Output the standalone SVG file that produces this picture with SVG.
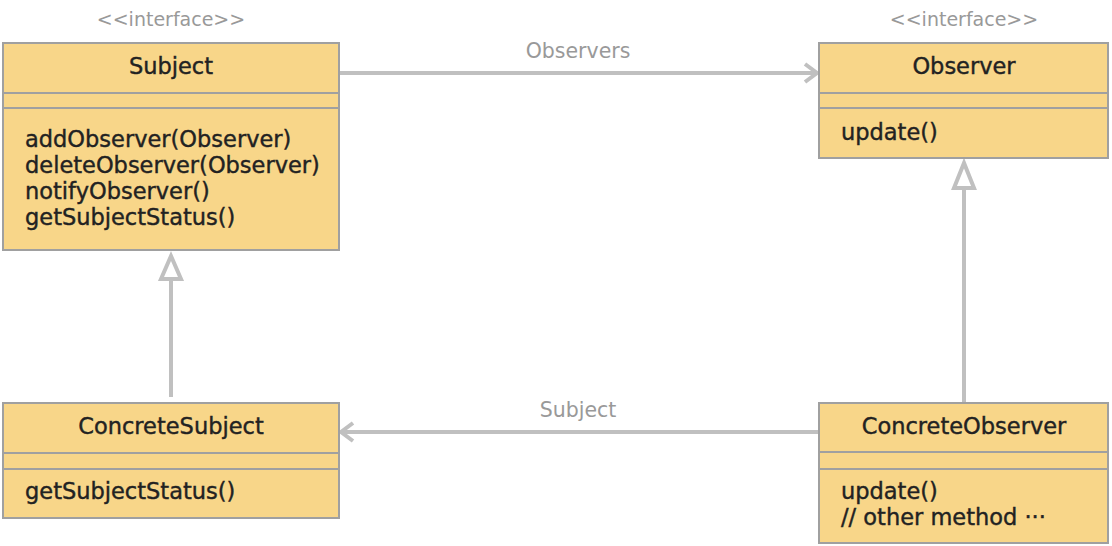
<svg xmlns="http://www.w3.org/2000/svg" width="1112" height="546" viewBox="0 0 1112 546">
  <style>
    .box { fill: #f8d689; stroke: #a0a0a0; stroke-width: 2; }
    .div { stroke: #a0a0a0; stroke-width: 2; }
    .title { font-family: "DejaVu Sans", "Noto Sans", sans-serif; font-size: 22.5px; fill: #222; stroke: #222; stroke-width: 0.4; text-anchor: middle; }
    .mem { font-family: "DejaVu Sans", "Noto Sans", sans-serif; font-size: 22.5px; fill: #222; stroke: #222; stroke-width: 0.4; }
    .ster { font-family: "DejaVu Sans", "Noto Sans", sans-serif; font-size: 19px; fill: #999; text-anchor: middle; }
    .lbl { font-family: "DejaVu Sans", "Noto Sans", sans-serif; font-size: 20.5px; fill: #999; text-anchor: middle; }
    .edge { stroke: #c0c0c0; stroke-width: 4; fill: none; }
    .tri { stroke: #c0c0c0; stroke-width: 4; fill: #fff; stroke-linejoin: miter; }
  </style>
  <rect width="1112" height="546" fill="#fff"/>

  <g id="connectors">
    <line class="edge" x1="340" y1="73" x2="816" y2="73"/>
    <polyline class="edge" points="805,64 817,73 805,82"/>
    <text class="lbl" x="578" y="58">Observers</text>

    <line class="edge" x1="818" y1="432" x2="342" y2="432"/>
    <polyline class="edge" points="353,423 341,432 353,441"/>
    <text class="lbl" x="578" y="417">Subject</text>

    <line class="edge" x1="171" y1="397" x2="171" y2="280"/>
    <polygon class="tri" points="171,256 161,279 181,279"/>

    <line class="edge" x1="964" y1="403" x2="964" y2="189"/>
    <polygon class="tri" points="964,163 954,188 974,188"/>
  </g>

  <g id="subject">
    <text class="ster" x="171" y="26">&lt;&lt;interface&gt;&gt;</text>
    <rect class="box" x="3" y="43" width="336" height="207"/>
    <line class="div" x1="3" y1="93" x2="339" y2="93"/>
    <line class="div" x1="3" y1="108" x2="339" y2="108"/>
    <text class="title" x="171" y="74">Subject</text>
    <text class="mem" x="25" y="147">addObserver(Observer)</text>
    <text class="mem" x="25" y="173">deleteObserver(Observer)</text>
    <text class="mem" x="25" y="199">notifyObserver()</text>
    <text class="mem" x="25" y="225">getSubjectStatus()</text>
  </g>

  <g id="observer">
    <text class="ster" x="964" y="26">&lt;&lt;interface&gt;&gt;</text>
    <rect class="box" x="819" y="43" width="289" height="115"/>
    <line class="div" x1="819" y1="93" x2="1108" y2="93"/>
    <line class="div" x1="819" y1="108" x2="1108" y2="108"/>
    <text class="title" x="964" y="74">Observer</text>
    <text class="mem" x="841" y="140">update()</text>
  </g>

  <g id="concrete-subject">
    <rect class="box" x="3" y="403" width="336" height="115"/>
    <line class="div" x1="3" y1="453" x2="339" y2="453"/>
    <line class="div" x1="3" y1="469" x2="339" y2="469"/>
    <text class="title" x="171" y="434">ConcreteSubject</text>
    <text class="mem" x="25" y="499">getSubjectStatus()</text>
  </g>

  <g id="concrete-observer">
    <rect class="box" x="819" y="403" width="289" height="140"/>
    <line class="div" x1="819" y1="452" x2="1108" y2="452"/>
    <line class="div" x1="819" y1="469" x2="1108" y2="469"/>
    <text class="title" x="964" y="434">ConcreteObserver</text>
    <text class="mem" x="841" y="499">update()</text>
    <text class="mem" x="841" y="525">// other method ···</text>
  </g>
</svg>
